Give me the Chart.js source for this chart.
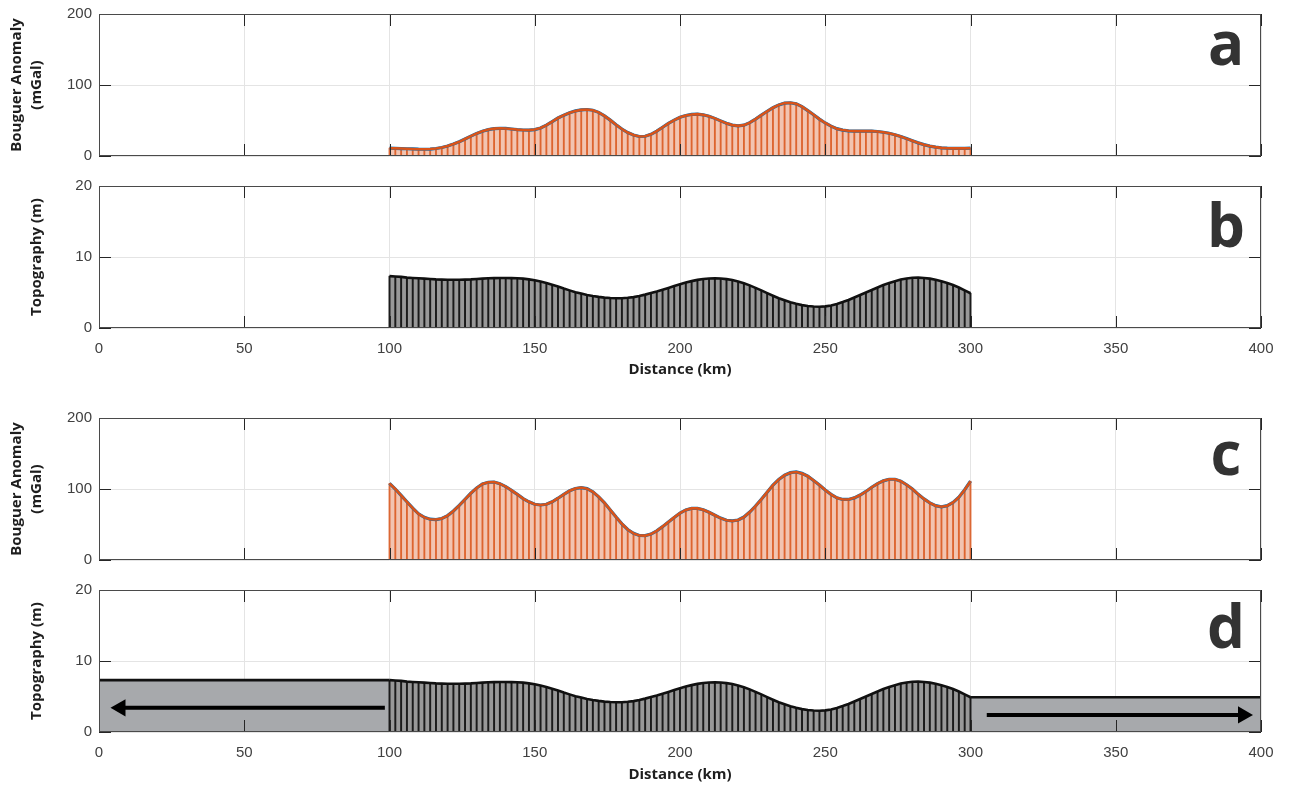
<!DOCTYPE html>
<html lang="en">
<head>
<meta charset="UTF-8">
<title>Bouguer anomaly and topography profiles</title>
<script src="https://cdn.jsdelivr.net/npm/chart.js"></script>
<style>
  body { margin: 0; background: #fff; }
  #wrap { position: relative; width: 1290px; height: 787px; overflow: hidden; }
  #wrap canvas { position: absolute; left: 0; }
</style>
</head>
<body>
<div id="wrap">
  <canvas id="panelA" width="1290" height="170" style="top:0"></canvas>
  <canvas id="panelB" width="1290" height="205" style="top:175px"></canvas>
  <canvas id="panelC" width="1290" height="170" style="top:405px"></canvas>
  <canvas id="panelD" width="1290" height="207" style="top:580px"></canvas>
</div>
<script>
// profiles are sampled every 2 km from 100 km to 300 km
const profileStart = 100;
const profileStep = 2;

// panel a: Bouguer anomaly (mGal)
const anomalyA = [
  11, 10.8, 10.5, 10.2, 9.9, 9.6, 9.5, 9.8, 10.6, 12,
  14, 16.8, 20, 24, 28, 31.8, 35, 37.2, 38.5, 39,
  38.8, 38, 37.2, 36.6, 36.5, 37.2, 39.5, 43.5, 48.5, 53.5,
  57.5, 61, 63.5, 65, 65.5, 64.5, 61.5, 56.5, 50.5, 44,
  38, 33, 29.5, 27.5, 27.8, 30.5, 35, 40.5, 46, 50.5,
  54.5, 57, 58.5, 59, 58, 56, 53, 49.5, 46, 43.5,
  42.5, 43.5, 47, 52, 57.5, 63, 68, 72, 74.5, 75,
  73.5, 69.5, 64, 58, 52, 46.5, 42, 38.5, 36.5, 35.5,
  35, 35, 35, 35, 34.5, 33.5, 32, 30, 27.5, 24.5,
  21.5, 18.5, 16, 14, 12.5, 11.5, 11, 10.8, 10.7, 10.8,
  11
];

// panels b and d: topography (m)
const topography = [
  7.3, 7.25, 7.2, 7.1, 7.05, 7.0, 6.95, 6.9, 6.85, 6.82,
  6.8, 6.8, 6.8, 6.82, 6.85, 6.9, 6.95, 7.0, 7.02, 7.05,
  7.05, 7.03, 7.0, 6.95, 6.85, 6.72, 6.55, 6.35, 6.1, 5.85,
  5.55, 5.3, 5.05, 4.85, 4.65, 4.5, 4.38, 4.28, 4.22, 4.2,
  4.2, 4.25, 4.35, 4.5, 4.7, 4.92, 5.15, 5.4, 5.65, 5.9,
  6.15, 6.4, 6.6, 6.78, 6.9, 6.98, 7.0, 6.97, 6.88, 6.75,
  6.55, 6.3, 6.0, 5.65, 5.3, 4.92, 4.55, 4.2, 3.9, 3.62,
  3.4, 3.22, 3.1, 3.02, 3.0, 3.05, 3.18, 3.38, 3.65, 3.95,
  4.3, 4.65, 5.0, 5.35, 5.7, 6.05, 6.35, 6.6, 6.82, 6.98,
  7.08, 7.1, 7.05, 6.95, 6.8, 6.6, 6.35, 6.05, 5.7, 5.3,
  4.9
];

// panel c: Bouguer anomaly (mGal)
const anomalyC = [
  108, 100, 91, 82, 73, 65, 60, 57.5, 57, 58.5,
  62.5, 69, 77, 85.5, 94, 101.5, 107, 109.5, 109.8, 107.5,
  103.5, 98, 92.5, 86.5, 82, 78.5, 77.5, 78.5, 82, 87,
  92.5, 97.5, 100.8, 102, 100.5, 96, 89, 80.5, 70.5, 60.5,
  51, 43, 37.5, 34.5, 34.3, 36.5, 41, 47, 53.5, 60,
  66, 70.5, 72.7, 72.7, 70.8, 67.2, 63, 59, 56, 55,
  56.4, 60.5, 67.5, 76, 85.5, 95.5, 105.5, 113.5, 119.5, 123,
  124, 122, 118, 112, 105.5, 98.5, 92.5, 87.5, 85.3, 85.3,
  87.5, 91.5, 96.5, 102.5, 107.5, 111.5, 113.7, 113.7, 111, 106,
  100, 92.5, 86, 80.5, 76.5, 75, 76.5, 81, 88.5, 99,
  111
];

const distanceTicks = [0, 50, 100, 150, 200, 250, 300, 350, 400];
const anomalyTicks = [0, 100, 200];
const topoTicks = [0, 10, 20];
const panelLetters = ['a', 'b', 'c', 'd'];

// panel d: flat extension of the end heights, and the arrows on them (km, m)
const shelfRanges = [[0, 100], [300, 400]];
const arrowTails = [98.4, 305.6];
const arrowHeads = [7.4, 393.8];
const arrowLevels = [3.4, 2.4];

const ORANGE = '#d95319';
const BLUE = '#0072bd';
const tickFont = { family: "'Liberation Sans', Arial, sans-serif", size: 15 };
const titleFont = { family: "'Open Sans', sans-serif", size: 15, weight: 'bold', lineHeight: '20px' };

function points(values) {
  return values.map((v, i) => ({ x: profileStart + i * profileStep, y: v }));
}

// box, inward ticks (both sides) and the panel letter
const framePlugin = {
  id: 'frame',
  afterDatasetsDraw(chart, args, opts) {
    const { ctx, chartArea: a, scales: { x, y } } = chart;
    ctx.save();
    ctx.strokeStyle = '#262626';
    ctx.lineWidth = 1;
    ctx.beginPath();
    x.ticks.forEach(t => {
      const px = Math.round(x.getPixelForValue(t.value)) + 0.5;
      ctx.moveTo(px, a.bottom); ctx.lineTo(px, a.bottom - 12);
      ctx.moveTo(px, a.top); ctx.lineTo(px, a.top + 12);
    });
    y.ticks.forEach(t => {
      const py = Math.round(y.getPixelForValue(t.value)) + 0.5;
      ctx.moveTo(a.left, py); ctx.lineTo(a.left + 12, py);
      ctx.moveTo(a.right, py); ctx.lineTo(a.right - 12, py);
    });
    ctx.stroke();
    ctx.strokeStyle = '#4a4a4a';
    ctx.strokeRect(a.left + 0.5, a.top + 0.5, a.width - 1, a.height - 1);
    ctx.fillStyle = '#333';
    ctx.font = "bold 60px 'Open Sans', sans-serif";
    ctx.textAlign = 'center';
    ctx.textBaseline = 'alphabetic';
    ctx.fillText(opts.letter, 1226, opts.letterY);
    ctx.restore();
  }
};

function makePanel(id, cfg) {
  new Chart(document.getElementById(id), {
    type: 'line',
    data: { datasets: cfg.datasets },
    plugins: [framePlugin],
    options: {
      responsive: false,
      animation: false,
      events: [],
      layout: { padding: { top: cfg.padTop, right: 29, left: 0, bottom: 0 } },
      elements: { point: { radius: 0, hoverRadius: 0 }, line: { tension: 0 } },
      plugins: {
        legend: { display: false },
        tooltip: { enabled: false },
        frame: { letter: cfg.letter, letterY: cfg.letterY }
      },
      scales: {
        x: {
          type: 'linear', min: 0, max: 400, offset: false,
          afterBuildTicks: s => { s.ticks = distanceTicks.map(v => ({ value: v })); },
          afterFit: s => { s.height = cfg.xHeight; },
          grid: { color: '#e4e4e4', drawTicks: false, offset: false },
          border: { display: false },
          ticks: { display: cfg.showX, padding: 12, color: '#404040', font: tickFont, maxRotation: 0, autoSkip: false },
          title: {
            display: cfg.showX, text: 'Distance (km)', color: '#1e1e1e',
            font: { family: "'Open Sans', sans-serif", size: 15, weight: 'bold' },
            padding: { top: 0, bottom: cfg.xTitlePad }
          }
        },
        y: {
          min: 0, max: cfg.yTicks[cfg.yTicks.length - 1],
          afterBuildTicks: s => { s.ticks = cfg.yTicks.map(v => ({ value: v })); },
          // fixed axis width, and no extra room for the end labels
          afterFit: s => { s.width = 99; s.paddingTop = 0; s.paddingBottom = 0; },
          grid: { color: '#e4e4e4', drawTicks: false },
          border: { display: false },
          ticks: { padding: 7, color: '#404040', font: tickFont },
          title: {
            display: true, text: cfg.yTitle, color: '#1e1e1e', font: titleFont,
            padding: { top: cfg.yTitlePad, bottom: 0 }
          }
        }
      }
    }
  });
}

function anomalySets(values) {
  return [
    { data: points(values), borderColor: ORANGE, borderWidth: 2.6, order: 0 },
    { data: points(values), borderColor: BLUE, borderWidth: 3.2, order: 1 },
    { type: 'bar', data: points(values), backgroundColor: 'rgba(217,83,25,0.85)', barThickness: 1.2, grouped: false, order: 2 },
    { data: points(values), borderWidth: 0, fill: 'origin', backgroundColor: 'rgba(217,83,25,0.34)', order: 3 }
  ];
}

function topoSets() {
  return [
    { data: points(topography), borderColor: '#111', borderWidth: 2.6, order: 0 },
    { type: 'bar', data: points(topography), backgroundColor: '#1a1a1a', barThickness: 1.3, grouped: false, order: 1 },
    { data: points(topography), borderWidth: 0, fill: 'origin', backgroundColor: '#989898', order: 2 }
  ];
}

const shelfLevels = [topography[0], topography[topography.length - 1]];
const shelfSets = shelfRanges.map((r, i) => ({
  data: r.map(x => ({ x: x, y: shelfLevels[i] })),
  borderColor: '#111', borderWidth: 2.6, fill: 'origin', backgroundColor: '#a7a9ac', order: 3
}));
const arrowSets = arrowTails.map((t, i) => ({
  data: [{ x: t, y: arrowLevels[i] }, { x: arrowHeads[i], y: arrowLevels[i] }],
  borderColor: '#000', borderWidth: 4, borderCapStyle: 'butt',
  pointStyle: 'triangle', pointRadius: [0, 10], pointHoverRadius: [0, 10],
  pointRotation: [0, arrowHeads[i] < t ? -90 : 90],
  pointBackgroundColor: '#000', pointBorderWidth: 0, order: -1
}));

const anomalyTitle = ['Bouguer Anomaly', '(mGal)'];

makePanel('panelA', {
  datasets: anomalySets(anomalyA), yTicks: anomalyTicks, yTitle: anomalyTitle, yTitlePad: 7,
  padTop: 14, xHeight: 14, showX: false, xTitlePad: 0, letter: panelLetters[0], letterY: 65
});
makePanel('panelB', {
  datasets: topoSets(), yTicks: topoTicks, yTitle: 'Topography (m)', yTitlePad: 27,
  padTop: 11, xHeight: 52, showX: true, xTitlePad: 1, letter: panelLetters[1], letterY: 72
});
makePanel('panelC', {
  datasets: anomalySets(anomalyC), yTicks: anomalyTicks, yTitle: anomalyTitle, yTitlePad: 7,
  padTop: 13, xHeight: 15, showX: false, xTitlePad: 0, letter: panelLetters[2], letterY: 70
});
makePanel('panelD', {
  datasets: topoSets().concat(shelfSets, arrowSets), yTicks: topoTicks, yTitle: 'Topography (m)', yTitlePad: 27,
  padTop: 10, xHeight: 55, showX: true, xTitlePad: 3, letter: panelLetters[3], letterY: 68
});
</script>
</body>
</html>
